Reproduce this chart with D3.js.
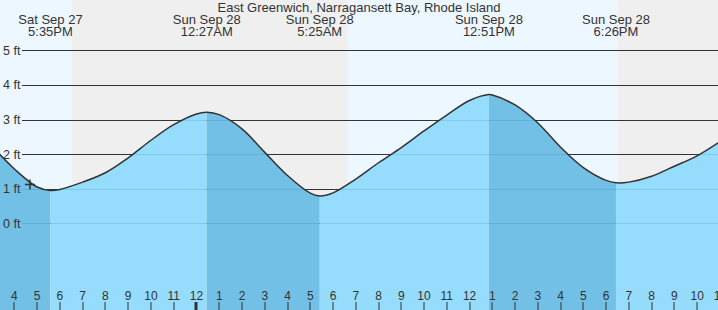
<!DOCTYPE html>
<html>
<head>
<meta charset="utf-8">
<script src="https://cdn.jsdelivr.net/npm/d3@7"></script>
<style>
	body { margin: 0; background: #fff; }
	svg { display: block; font-family: "Liberation Sans", Arial, sans-serif; }
</style>
</head>
<body>
<div id="chart"></div>
<script>
const title = "East Greenwich, Narragansett Bay, Rhode Island";

// Hourly water level (ft)
const levelTimes = [
	"2025-09-27 15:00", "2025-09-27 16:00", "2025-09-27 17:00", "2025-09-27 18:00",
	"2025-09-27 19:00", "2025-09-27 20:00", "2025-09-27 21:00", "2025-09-27 22:00",
	"2025-09-27 23:00", "2025-09-28 00:00", "2025-09-28 01:00", "2025-09-28 02:00",
	"2025-09-28 03:00", "2025-09-28 04:00", "2025-09-28 05:00", "2025-09-28 06:00",
	"2025-09-28 07:00", "2025-09-28 08:00", "2025-09-28 09:00", "2025-09-28 10:00",
	"2025-09-28 11:00", "2025-09-28 12:00", "2025-09-28 13:00", "2025-09-28 14:00",
	"2025-09-28 15:00", "2025-09-28 16:00", "2025-09-28 17:00", "2025-09-28 18:00",
	"2025-09-28 19:00", "2025-09-28 20:00", "2025-09-28 21:00", "2025-09-28 22:00",
	"2025-09-28 23:00",
];
const levelHeights = [
	2.24, 1.57, 1.05, 0.98,
	1.19, 1.46, 1.89, 2.4,
	2.85, 3.16, 3.14, 2.73,
	2.05, 1.38, 0.87, 0.88,
	1.28, 1.75, 2.19, 2.67,
	3.13, 3.55, 3.71, 3.42,
	2.9, 2.2, 1.61, 1.24,
	1.19, 1.36, 1.65, 1.95,
	2.36,
];

// High / low tide events
const eventTimes = ["2025-09-27 17:35", "2025-09-28 00:27", "2025-09-28 05:25", "2025-09-28 12:51", "2025-09-28 18:26"];
const eventHeights = [0.95, 3.21, 0.79, 3.72, 1.17];
const eventTypes = ["L", "H", "L", "H", "L"];
const eventDays = ["Sat Sep 27", "Sun Sep 28", "Sun Sep 28", "Sun Sep 28", "Sun Sep 28"];
const eventLabels = ["5:35PM", "12:27AM", "5:25AM", "12:51PM", "6:26PM"];

// Sunset / sunrise
const sunsetTimes = ["2025-09-27 18:32", "2025-09-28 18:31"];
const sunriseTimes = ["2025-09-28 06:39"];

// Current time marker
const nowTime = "2025-09-27 16:41";
const nowHeight = 1.12;

const feetTicks = [0, 1, 2, 3, 4, 5];

const width = 718;
const height = 310;

const parse = d3.timeParse("%Y-%m-%d %H:%M");

const levels = levelTimes
	.map((t, i) => ({ time: parse(t), ft: levelHeights[i] }))
	.concat(eventTimes.map((t, i) => ({ time: parse(t), ft: eventHeights[i] })))
	.sort((a, b) => a.time - b.time);

const x = d3
	.scaleTime()
	.domain([parse("2025-09-27 15:22"), parse("2025-09-28 22:55")])
	.range([0, width]);

const y = d3.scaleLinear().domain([0, 5]).range([223.3, 50.3]);

const svg = d3
	.select("#chart")
	.append("svg")
	.attr("width", width)
	.attr("height", height);

// Day / night background
svg.append("rect").attr("width", width).attr("height", height).attr("fill", "#edf7ff");

const nights = [
	[parse(sunsetTimes[0]), parse(sunriseTimes[0])],
	[parse(sunsetTimes[1]), x.domain()[1]],
];
svg
	.selectAll("rect.night")
	.data(nights)
	.enter()
	.append("rect")
	.attr("class", "night")
	.attr("x", (d) => x(d[0]))
	.attr("width", (d) => x(d[1]) - x(d[0]))
	.attr("y", 0)
	.attr("height", height)
	.attr("fill", "#efefef");

// Grid lines
svg
	.selectAll("line.grid")
	.data(feetTicks)
	.enter()
	.append("line")
	.attr("class", "grid")
	.attr("x1", 22)
	.attr("x2", width)
	.attr("y1", (d) => Math.round(y(d)) + 0.5)
	.attr("y2", (d) => Math.round(y(d)) + 0.5)
	.attr("stroke", "#333")
	.attr("stroke-width", 1);

// Water area, clipped and coloured by rising / falling tide
const tideCurve = d3.curveCatmullRom.alpha(0.5);

const area = d3
	.area()
	.x((d) => x(d.time))
	.y0(height)
	.y1((d) => y(d.ft))
	.curve(tideCurve);

svg
	.append("defs")
	.append("clipPath")
	.attr("id", "water-clip")
	.append("path")
	.attr("d", area(levels));

const bounds = [x.domain()[0]].concat(eventTimes.map(parse), [x.domain()[1]]);
const segments = d3.pairs(bounds).map((p, i) => ({
	start: p[0],
	end: p[1],
	falling: i === 0 ? eventTypes[0] === "L" : eventTypes[i - 1] === "H",
}));

const water = svg.append("g").attr("clip-path", "url(#water-clip)");

water
	.selectAll("rect")
	.data(segments)
	.enter()
	.append("rect")
	.attr("x", (d) => x(d.start))
	.attr("width", (d) => x(d.end) - x(d.start))
	.attr("y", 0)
	.attr("height", height)
	.attr("fill", (d) => (d.falling ? "#72c0e5" : "#96dcfc"));

// Faint grid lines through the water
water
	.selectAll("line")
	.data(feetTicks)
	.enter()
	.append("line")
	.attr("x1", 22)
	.attr("x2", width)
	.attr("y1", (d) => Math.round(y(d)) + 0.5)
	.attr("y2", (d) => Math.round(y(d)) + 0.5)
	.attr("stroke", "rgba(0,60,100,0.12)");

// Tide curve
const line = d3
	.line()
	.x((d) => x(d.time))
	.y((d) => y(d.ft))
	.curve(tideCurve);

svg
	.append("path")
	.attr("d", line(levels))
	.attr("fill", "none")
	.attr("stroke", "#333")
	.attr("stroke-width", 1.5);

// Feet labels
svg
	.selectAll("text.feet")
	.data(feetTicks)
	.enter()
	.append("text")
	.attr("class", "feet")
	.attr("x", 3)
	.attr("y", (d) => y(d) + 4.5)
	.attr("font-size", 12.5)
	.attr("fill", "#333")
	.text((d) => `${d} ft`);

// Title
svg
	.append("text")
	.attr("x", width / 2)
	.attr("y", 12)
	.attr("text-anchor", "middle")
	.attr("font-size", 13)
	.attr("fill", "#333")
	.text(title);

// High / low labels
const eventLabel = svg
	.selectAll("g.event")
	.data(eventTimes)
	.enter()
	.append("g")
	.attr("class", "event")
	.attr("transform", (d) => `translate(${x(parse(d))}, 0)`)
	.attr("text-anchor", "middle")
	.attr("font-size", 13)
	.attr("fill", "#333");

eventLabel.append("text").attr("y", 24).text((d, i) => eventDays[i]);
eventLabel.append("text").attr("y", 36).text((d, i) => eventLabels[i]);

// Hour ticks along the bottom
const hours = d3.timeHour.range(parse("2025-09-27 16:00"), parse("2025-09-28 23:30"));
const hourFormat = d3.timeFormat("%-I");

svg
	.selectAll("rect.tick")
	.data(hours)
	.enter()
	.append("rect")
	.attr("class", "tick")
	.attr("x", (d) => Math.round(x(d)) - (d.getHours() === 0 ? 1.5 : 0.5))
	.attr("y", 302)
	.attr("width", (d) => (d.getHours() === 0 ? 3 : 1))
	.attr("height", 8)
	.attr("fill", "#333");

svg
	.selectAll("text.hour")
	.data(hours)
	.enter()
	.append("text")
	.attr("class", "hour")
	.attr("x", (d) => x(d))
	.attr("y", 300)
	.attr("text-anchor", "middle")
	.attr("font-size", 12)
	.attr("fill", "#333")
	.text((d) => hourFormat(d));

// Current time marker
const nowX = x(parse(nowTime));
const nowY = y(nowHeight);
svg
	.append("path")
	.attr("d", `M${nowX - 5},${nowY}H${nowX + 5}M${nowX},${nowY - 5}V${nowY + 5}`)
	.attr("stroke", "#333")
	.attr("stroke-width", 1.5);
</script>
</body>
</html>
